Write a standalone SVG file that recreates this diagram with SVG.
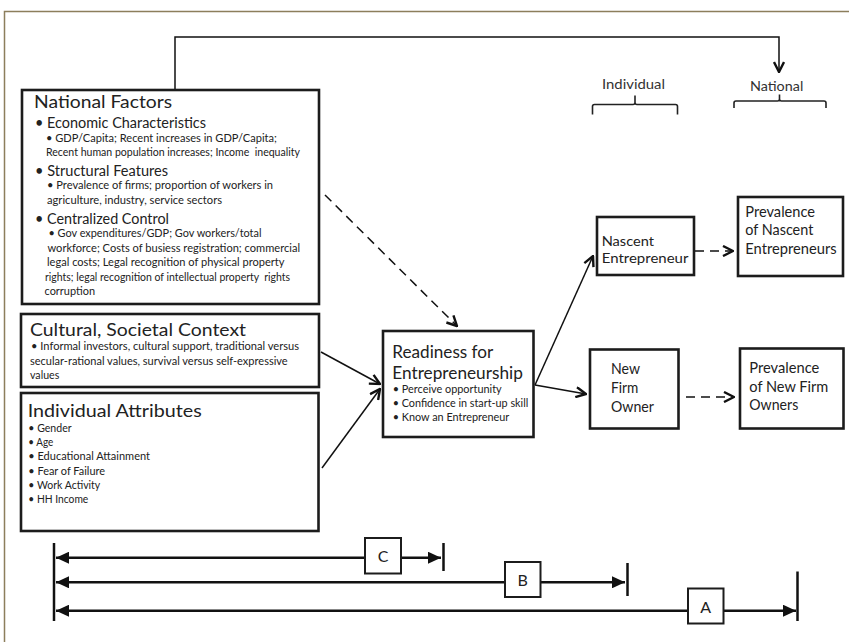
<svg xmlns="http://www.w3.org/2000/svg" width="849" height="642" viewBox="0 0 849 642">
<style>
text{font-family:Lato,"Open Sans","Liberation Sans",sans-serif;fill:#222}
.t{font-size:18px}
.h{font-size:14.5px}
.s{font-size:11px}
.m{font-size:11px}
.r{font-size:15px}
.rn{font-size:14px}
.lab{font-size:13.5px;fill:#333}
.let{font-size:16px;text-anchor:middle}
.box{fill:#fff;stroke:#1c1c1c;stroke-width:2.6}
.sbox{fill:#fff;stroke:#1c1c1c;stroke-width:2}
.ln{fill:none;stroke:#111;stroke-width:1.5}
.dash{fill:none;stroke:#111;stroke-width:1.5;stroke-dasharray:9 6}
.bar{fill:none;stroke:#111;stroke-width:2.5}
.brace{fill:none;stroke:#222;stroke-width:1.6}
</style>
<defs>
<marker id="open" viewBox="0 0 12 12" refX="11" refY="6" markerWidth="12" markerHeight="12" markerUnits="userSpaceOnUse" orient="auto">
<path d="M1,1 L11,6 L1,11" fill="none" stroke="#111" stroke-width="2.4" stroke-dasharray="none"/>
</marker>
<marker id="tri" viewBox="0 0 13 12" refX="13" refY="6" markerWidth="13" markerHeight="12" markerUnits="userSpaceOnUse" orient="auto-start-reverse">
<path d="M0,0 L13,6 L0,12 z" fill="#111"/>
</marker>
</defs>
<rect x="0" y="0" width="849" height="642" fill="#fff"/>
<rect x="4.5" y="11.5" width="850" height="640" fill="none" stroke="#8c7e5c" stroke-width="1.5"/>

<g id="connectors">
<path class="ln" d="M175,90 V37 H779 V72" marker-end="url(#open)"/>
<path class="dash" d="M325,195 L457,326" marker-end="url(#open)"/>
<path class="ln" d="M321,352 L380,384" marker-end="url(#open)"/>
<path class="ln" d="M322,468 L380,389" marker-end="url(#open)"/>
<path class="ln" d="M535,385 L593,256" marker-end="url(#open)"/>
<path class="ln" d="M535,385 L586,394" marker-end="url(#open)"/>
<path class="dash" d="M695,251 L733,251" marker-end="url(#open)"/>
<path class="dash" d="M686,397 L734,397" marker-end="url(#open)"/>
<path class="bar" d="M54,543 V621"/>
<path class="bar" d="M56,557.7 H441" marker-start="url(#tri)" marker-end="url(#tri)"/>
<path class="bar" d="M443.5,543 V571"/>
<path class="bar" d="M56,582.3 H625" marker-start="url(#tri)" marker-end="url(#tri)"/>
<path class="bar" d="M627.5,563 V596"/>
<path class="bar" d="M56,610.7 H796" marker-start="url(#tri)" marker-end="url(#tri)"/>
<path class="bar" d="M797.5,571.5 V621"/>
</g>

<g id="national-factors">
<rect class="box" x="22" y="90" width="297" height="214"/>
<text class="t" x="34" y="108" textLength="138" lengthAdjust="spacingAndGlyphs">National Factors</text>
<text class="h" x="35" y="128" textLength="171" lengthAdjust="spacingAndGlyphs">• Economic Characteristics</text>
<text class="s" x="46" y="142" textLength="231" lengthAdjust="spacingAndGlyphs">• GDP/Capita; Recent increases in GDP/Capita;</text>
<text class="s" x="46" y="156" textLength="254" lengthAdjust="spacingAndGlyphs" xml:space="preserve">Recent human population increases; Income  inequality</text>
<text class="h" x="35" y="176" textLength="133" lengthAdjust="spacingAndGlyphs">• Structural Features</text>
<text class="s" x="47" y="188.5" textLength="226" lengthAdjust="spacingAndGlyphs">• Prevalence of firms; proportion of workers in</text>
<text class="s" x="47" y="203.5" textLength="175" lengthAdjust="spacingAndGlyphs">agriculture, industry, service sectors</text>
<text class="h" x="35" y="223.5" textLength="134" lengthAdjust="spacingAndGlyphs">• Centralized Control</text>
<text class="s" x="48.5" y="237" textLength="213" lengthAdjust="spacingAndGlyphs">• Gov expenditures/GDP; Gov workers/total</text>
<text class="s" x="47.5" y="252" textLength="252.5" lengthAdjust="spacingAndGlyphs">workforce; Costs of busiess registration; commercial</text>
<text class="s" x="47" y="266" textLength="237.5" lengthAdjust="spacingAndGlyphs">legal costs; Legal recognition of physical property</text>
<text class="s" x="45" y="281" textLength="245" lengthAdjust="spacingAndGlyphs" xml:space="preserve">rights; legal recognition of intellectual property  rights</text>
<text class="s" x="44.5" y="295" textLength="50.5" lengthAdjust="spacingAndGlyphs">corruption</text>
</g>

<g id="cultural-context">
<rect class="box" x="21" y="314" width="298" height="73"/>
<text class="t" x="30" y="336" textLength="216" lengthAdjust="spacingAndGlyphs">Cultural, Societal Context</text>
<text class="m" x="31" y="350" textLength="268" lengthAdjust="spacingAndGlyphs">• Informal investors, cultural support, traditional versus</text>
<text class="m" x="30" y="364.5" textLength="257.7" lengthAdjust="spacingAndGlyphs">secular-rational values, survival versus self-expressive</text>
<text class="m" x="30" y="378.5" textLength="29.3" lengthAdjust="spacingAndGlyphs">values</text>
</g>

<g id="individual-attributes">
<rect class="box" x="21" y="393" width="297.5" height="138"/>
<text class="t" x="27.7" y="417" textLength="174" lengthAdjust="spacingAndGlyphs">Individual Attributes</text>
<text class="s" x="28.3" y="432" textLength="43.3" lengthAdjust="spacingAndGlyphs">• Gender</text>
<text class="s" x="28.3" y="446" textLength="25" lengthAdjust="spacingAndGlyphs">• Age</text>
<text class="s" x="28.3" y="460" textLength="121.7" lengthAdjust="spacingAndGlyphs">• Educational Attainment</text>
<text class="s" x="28.3" y="474.5" textLength="76.7" lengthAdjust="spacingAndGlyphs">• Fear of Failure</text>
<text class="s" x="28.3" y="488.5" textLength="72" lengthAdjust="spacingAndGlyphs">• Work Activity</text>
<text class="s" x="28.3" y="503" textLength="60" lengthAdjust="spacingAndGlyphs">• HH Income</text>
</g>

<g id="readiness">
<rect class="box" x="383" y="331" width="150.5" height="106"/>
<text class="t" x="392.3" y="357.5" textLength="101" lengthAdjust="spacingAndGlyphs">Readiness for</text>
<text class="t" x="392.3" y="379" textLength="130.5" lengthAdjust="spacingAndGlyphs">Entrepreneurship</text>
<text class="m" x="392.7" y="393" textLength="109" lengthAdjust="spacingAndGlyphs">• Perceive opportunity</text>
<text class="m" x="392.7" y="407" textLength="135.6" lengthAdjust="spacingAndGlyphs">• Confidence in start-up skill</text>
<text class="m" x="392.7" y="421" textLength="116.6" lengthAdjust="spacingAndGlyphs">• Know an Entrepreneur</text>
</g>

<g id="nascent-entrepreneur">
<rect class="box" x="597" y="217" width="97" height="58"/>
<text class="rn" x="601.7" y="245.5" textLength="52.3" lengthAdjust="spacingAndGlyphs">Nascent</text>
<text class="rn" x="601.7" y="262.5" textLength="86.7" lengthAdjust="spacingAndGlyphs">Entrepreneur</text>
</g>

<g id="prevalence-nascent">
<rect class="box" x="738" y="197" width="105" height="79"/>
<text class="r" x="745.3" y="217" textLength="69.7" lengthAdjust="spacingAndGlyphs">Prevalence</text>
<text class="r" x="745.3" y="235" textLength="68" lengthAdjust="spacingAndGlyphs">of Nascent</text>
<text class="r" x="745.3" y="254" textLength="91.3" lengthAdjust="spacingAndGlyphs">Entrepreneurs</text>
</g>

<g id="new-firm-owner">
<rect class="box" x="590" y="349.5" width="88.5" height="79"/>
<text class="r" x="611" y="374" textLength="29" lengthAdjust="spacingAndGlyphs">New</text>
<text class="r" x="611" y="393.3" textLength="27.3" lengthAdjust="spacingAndGlyphs">Firm</text>
<text class="r" x="611" y="411.7" textLength="43" lengthAdjust="spacingAndGlyphs">Owner</text>
</g>

<g id="prevalence-new-firm">
<rect class="box" x="740" y="348.5" width="103.5" height="80"/>
<text class="r" x="749.3" y="373.3" textLength="70" lengthAdjust="spacingAndGlyphs">Prevalence</text>
<text class="r" x="749.3" y="391.7" textLength="79" lengthAdjust="spacingAndGlyphs">of New Firm</text>
<text class="r" x="749.3" y="410" textLength="49" lengthAdjust="spacingAndGlyphs">Owners</text>
</g>

<g id="level-individual">
<text class="lab" x="602" y="89.3" textLength="63" lengthAdjust="spacingAndGlyphs">Individual</text>
<path class="brace" d="M592.5,114.5 V106.5 Q592.5,104.5 594.5,104.5 H633 Q635,104.5 635,102.5 V95.5 M635,102.5 Q635,104.5 637,104.5 H675.5 Q677.5,104.5 677.5,106.5 V114.5"/>
</g>

<g id="level-national">
<text class="lab" x="750" y="90.7" textLength="53.3" lengthAdjust="spacingAndGlyphs">National</text>
<path class="brace" d="M734,108 V103 Q734,101 736,101 H777.5 Q779.5,101 779.5,99 V94.5 M779.5,99 Q779.5,101 781.5,101 H824 Q826,101 826,103 V108"/>
</g>

<g id="label-c">
<rect class="sbox" x="365" y="538" width="36" height="35.5"/>
<text class="let" x="383" y="562">C</text>
</g>
<g id="label-b">
<rect class="sbox" x="505" y="562" width="35.5" height="35"/>
<text class="let" x="522.7" y="586">B</text>
</g>
<g id="label-a">
<rect class="sbox" x="688" y="588.5" width="35.5" height="35"/>
<text class="let" x="705.7" y="612.5">A</text>
</g>
</svg>
